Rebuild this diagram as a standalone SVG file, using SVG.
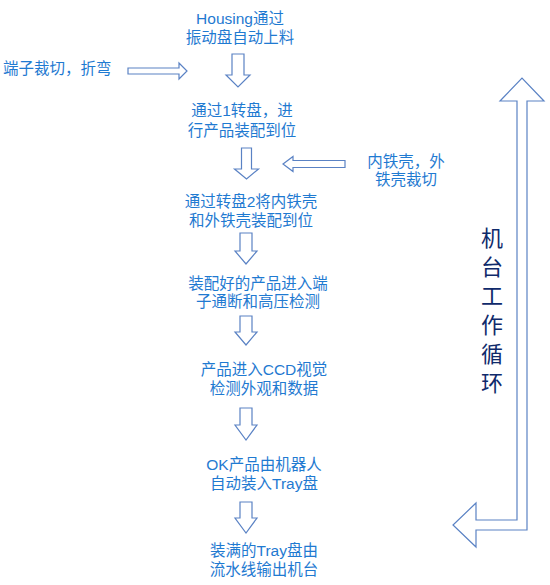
<svg xmlns="http://www.w3.org/2000/svg" width="550" height="585" viewBox="0 0 550 585">
<style>
.t{font-family:"Liberation Sans","Noto Sans CJK SC",sans-serif;font-size:15.5px;fill:#1f7ad1;text-anchor:middle}
.ts{text-anchor:start}
.a{fill:#ffffff;stroke:#5a82c4;stroke-width:1.2;stroke-linejoin:miter}
.v{font-family:"Liberation Sans","Noto Sans CJK SC",sans-serif;font-size:22px;fill:#0f2a6b;text-anchor:middle}
</style>
<rect width="550" height="585" fill="#ffffff"/>
<g id="n1"><text class="t"><tspan x="240" y="24">Housing通过</tspan><tspan x="240" y="43">振动盘自动上料</tspan></text></g>
<g id="n0"><text class="t ts" x="3" y="74">端子裁切，折弯</text></g>
<g id="n2"><text class="t"><tspan x="242" y="116">通过1转盘，进</tspan><tspan x="242" y="136">行产品装配到位</tspan></text></g>
<g id="n3"><text class="t"><tspan x="406" y="167">内铁壳，外</tspan><tspan x="406" y="185">铁壳裁切</tspan></text></g>
<g id="n4"><text class="t"><tspan x="251" y="207">通过转盘2将内铁壳</tspan><tspan x="251" y="226">和外铁壳装配到位</tspan></text></g>
<g id="n5"><text class="t"><tspan x="258" y="289">装配好的产品进入端</tspan><tspan x="258" y="307">子通断和高压检测</tspan></text></g>
<g id="n6"><text class="t"><tspan x="264" y="375">产品进入CCD视觉</tspan><tspan x="264" y="394">检测外观和数据</tspan></text></g>
<g id="n7"><text class="t"><tspan x="264" y="470">OK产品由机器人</tspan><tspan x="264" y="489">自动装入Tray盘</tspan></text></g>
<g id="n8"><text class="t"><tspan x="264" y="556">装满的Tray盘由</tspan><tspan x="264" y="575">流水线输出机台</tspan></text></g>
<g id="loop-label"><text class="v"><tspan x="492" y="246">机</tspan><tspan x="492" y="275">台</tspan><tspan x="492" y="304">工</tspan><tspan x="492" y="333">作</tspan><tspan x="492" y="362">循</tspan><tspan x="492" y="391">环</tspan></text></g>
<g id="connectors">
<path class="a" d="M232,54 H244 V75 H250 L238,87 L226,75 H232 Z"/>
<path class="a" d="M128,68 H179 V63 L187,71 L179,79 V74 H128 Z"/>
<path class="a" d="M241.5,148 H251.5 V169 H258.5 L246.5,179 L234.5,169 H241.5 Z"/>
<path class="a" d="M345,160.5 H293 V156.5 L283,164 L293,171.5 V167.5 H345 Z"/>
<path class="a" d="M240,233 H252 V251 H257 L246,264 L235,251 H240 Z"/>
<path class="a" d="M240,316 H252 V332 H257 L246,345 L235,332 H240 Z"/>
<path class="a" d="M240,408 H252 V425 H257 L246,440 L235,425 H240 Z"/>
<path class="a" d="M240,502 H252 V518 H257 L246,533 L235,518 H240 Z"/>
<path class="a" d="M517,101 H500 L522,78 L544,101 H527 V530 H476 V547 L453,525 L476,503 V520 H517 Z"/>
</g>
</svg>
